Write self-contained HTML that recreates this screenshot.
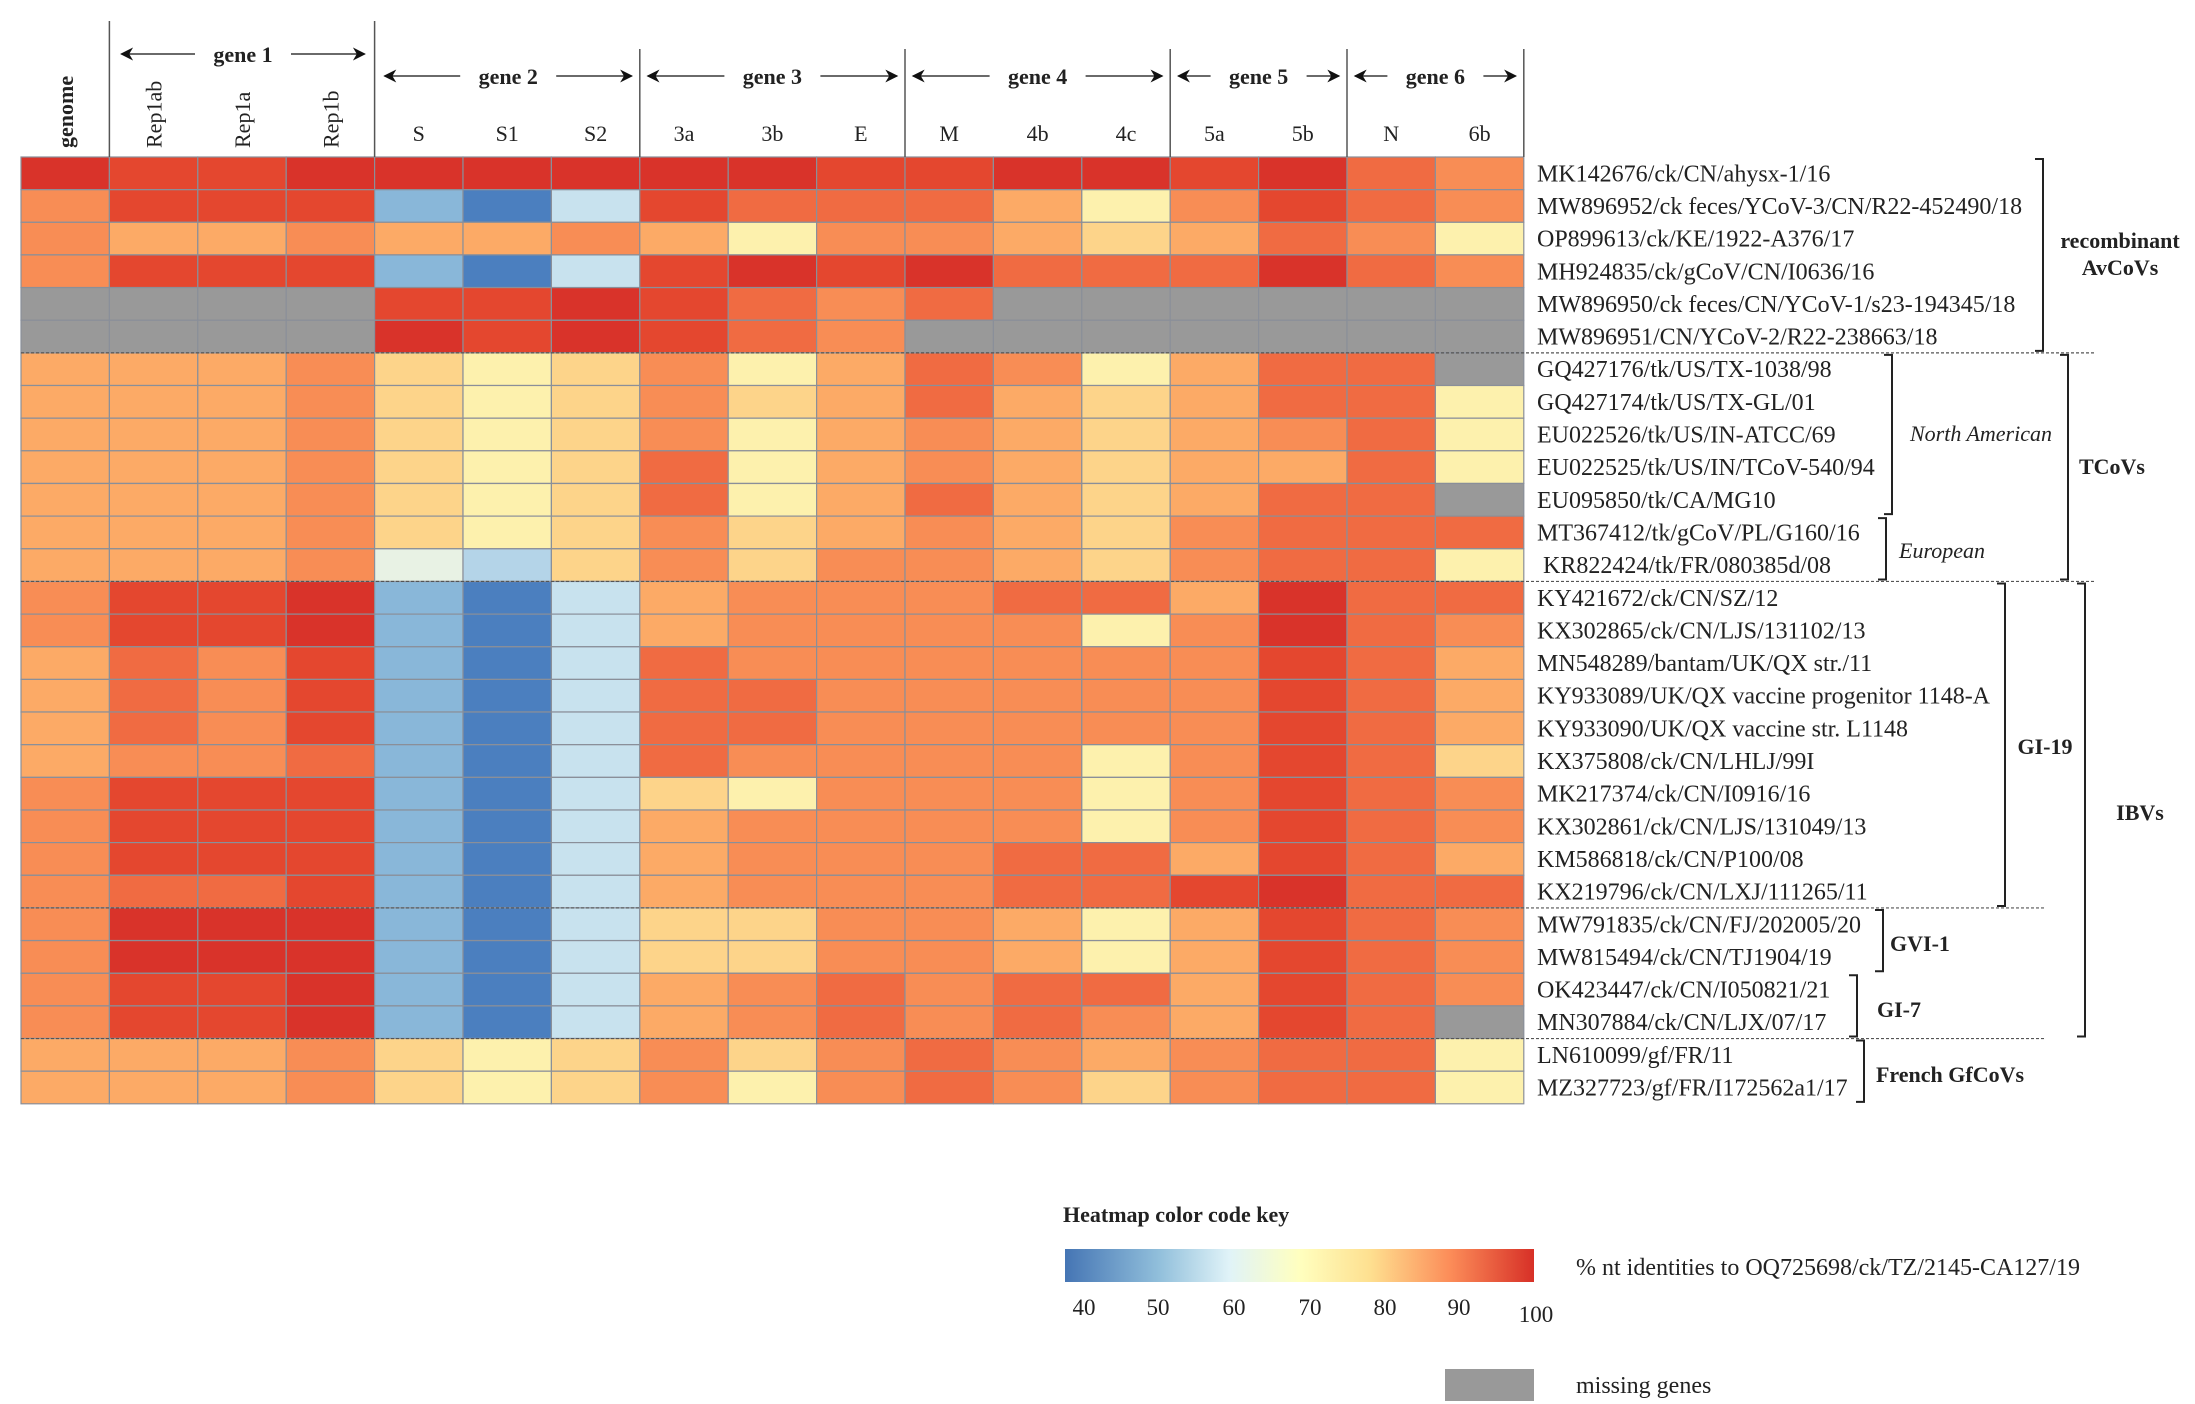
<!DOCTYPE html>
<html><head><meta charset="utf-8">
<style>
html,body{margin:0;padding:0;background:#fff;}
svg{display:block;}
text{font-family:"Liberation Serif",serif;fill:#222;}
</style></head>
<body>
<svg id="s" width="2195" height="1404" viewBox="0 0 2195 1404" xmlns="http://www.w3.org/2000/svg">
<defs>
<linearGradient id="grad" x1="0" x2="1" y1="0" y2="0">
<stop offset="0" stop-color="#4575b4"/>
<stop offset="0.2" stop-color="#91bfdb"/>
<stop offset="0.35" stop-color="#e0f3f8"/>
<stop offset="0.5" stop-color="#ffffbf"/>
<stop offset="0.65" stop-color="#fee090"/>
<stop offset="0.82" stop-color="#fc8d59"/>
<stop offset="1" stop-color="#d73027"/>
</linearGradient>
<marker id="ah" markerWidth="10" markerHeight="10" refX="9" refY="5" orient="auto"><path d="M0,0 L10,5 L0,10 L3,5 z" fill="#111"/></marker>
</defs>
<g id="cells"></g>
<g id="over"></g>
</svg>
<script>
var C={R:"#d9332a",r:"#e4472f",O:"#f06b42",o:"#f88d55",p:"#fcaa66",y:"#fdd48a",Y:"#fdf1ad",c:"#e8f2e4",b:"#89b7d9",B:"#4b7fbf",l:"#c8e2ee",L:"#b4d4e8",g:"#999999"};
var rows=[
"RrrRRRRRRrrRRrROo","orrrbBlrOOOpYorOo","oppoppopYoopypOoY","orrrbBlrRrROOOROo",
"ggggrrRrOoOgggggg","ggggRrRrOoggggggg",
"pppoyYyoYpOoYpOOg","pppoyYyoypOpypOOY","pppoyYyoYpopypoOY","pppoyYyOYpopyppOY","pppoyYyOYpOpypOOg",
"pppoyYyoypopyoOOO","pppocLyoyoopyoOOY",
"orrRbBlpoooOOpROO","orrRbBlpooooYoROo","pOorbBlOoooooorOp","pOorbBlOOooooorOp","pOorbBlOOooooorOp",
"pooObBlOooooYorOy","orrrbBlyYoooYorOo","orrrbBlpooooYorOo","orrrbBlpoooOOprOp","oOOrbBlpoooOOrROO",
"oRRRbBlyyoopYprOo","oRRRbBlyyoopYprOo","orrRbBlpoOoOOprOo","orrRbBlpoOoOoprOg",
"pppoyYyoyoOopoOOY","pppoyYyoYoOoyoOOY"];
var labels=["MK142676/ck/CN/ahysx-1/16","MW896952/ck feces/YCoV-3/CN/R22-452490/18","OP899613/ck/KE/1922-A376/17","MH924835/ck/gCoV/CN/I0636/16","MW896950/ck feces/CN/YCoV-1/s23-194345/18","MW896951/CN/YCoV-2/R22-238663/18","GQ427176/tk/US/TX-1038/98","GQ427174/tk/US/TX-GL/01","EU022526/tk/US/IN-ATCC/69","EU022525/tk/US/IN/TCoV-540/94","EU095850/tk/CA/MG10","MT367412/tk/gCoV/PL/G160/16"," KR822424/tk/FR/080385d/08","KY421672/ck/CN/SZ/12","KX302865/ck/CN/LJS/131102/13","MN548289/bantam/UK/QX str./11","KY933089/UK/QX vaccine progenitor 1148-A","KY933090/UK/QX vaccine str. L1148","KX375808/ck/CN/LHLJ/99I","MK217374/ck/CN/I0916/16","KX302861/ck/CN/LJS/131049/13","KM586818/ck/CN/P100/08","KX219796/ck/CN/LXJ/111265/11","MW791835/ck/CN/FJ/202005/20","MW815494/ck/CN/TJ1904/19","OK423447/ck/CN/I050821/21","MN307884/ck/CN/LJX/07/17","LN610099/gf/FR/11","MZ327723/gf/FR/I172562a1/17"];
var X0=21,W=88.4,Y0=157,H=32.65,NC=17;
var h='';
rows.forEach(function(r,i){for(var j=0;j<NC;j++){var ch=r[j]||'o';h+='<rect x="'+(X0+j*W).toFixed(1)+'" y="'+(Y0+i*H).toFixed(1)+'" width="'+W.toFixed(1)+'" height="'+H.toFixed(1)+'" fill="'+C[ch]+'" stroke="#8a8f99" stroke-width="1.2"/>';}
h+='<text x="1537" y="'+(Y0+i*H+H/2+8).toFixed(1)+'" font-size="24" xml:space="preserve">'+labels[i]+'</text>';});
document.getElementById('cells').innerHTML=h;
var o='';
var R=X0+17*W;
[[X0+W,21],[X0+4*W,21],[X0+7*W,49],[X0+10*W,49],[X0+13*W,49],[X0+15*W,49],[R,49]].forEach(function(v){o+='<line x1="'+v[0]+'" y1="'+v[1]+'" x2="'+v[0]+'" y2="157" stroke="#555" stroke-width="1.5"/>';});
function gene(x1,x2,y,t){var m=(x1+x2)/2;o+='<line x1="'+(m-48)+'" y1="'+y+'" x2="'+(x1+4)+'" y2="'+y+'" stroke="#111" stroke-width="1.3" marker-end="url(#ah)"/><line x1="'+(m+48)+'" y1="'+y+'" x2="'+(x2-4)+'" y2="'+y+'" stroke="#111" stroke-width="1.3" marker-end="url(#ah)"/><text x="'+m+'" y="'+(y+8)+'" font-size="22" font-weight="bold" text-anchor="middle">'+t+'</text>';}
gene(X0+W+8,X0+4*W-6,54,'gene 1');gene(X0+4*W+6,X0+7*W-4,76,'gene 2');gene(X0+7*W+4,X0+10*W-4,76,'gene 3');gene(X0+10*W+4,X0+13*W-4,76,'gene 4');gene(X0+13*W+4,X0+15*W-4,76,'gene 5');gene(X0+15*W+4,R-4,76,'gene 6');
var cl=['genome','Rep1ab','Rep1a','Rep1b','S','S1','S2','3a','3b','E','M','4b','4c','5a','5b','N','6b'];
cl.forEach(function(t,j){var cx=X0+j*W+W/2;if(j<4){o+='<text transform="translate('+(cx+8)+',148) rotate(-90)" font-size="22"'+(j==0?' font-weight="bold"':'')+'>'+t+'</text>';}else{o+='<text x="'+cx+'" y="141" font-size="22" text-anchor="middle">'+t+'</text>';}});
[6,13,23,27].forEach(function(k){var y=Y0+k*H;o+='<line x1="'+X0+'" y1="'+y+'" x2="'+(k==6||k==13?2095:2045)+'" y2="'+y+'" stroke="#555" stroke-width="1.2" stroke-dasharray="3,2"/>';});
function br(x,r1,r2){var y1=Y0+r1*H+2,y2=Y0+(r2+1)*H-2;o+='<path d="M'+(x-8)+','+y1+' H'+x+' V'+y2+' H'+(x-8)+'" fill="none" stroke="#222" stroke-width="2"/>';}
br(2043,0,5);br(2068,6,12);br(1892,6,10);br(1886,11,12);br(2085,13,26);br(2005,13,22);br(1883,23,24);br(1857,25,26);br(1864,27,28);
function lab(x,y,t,opt){o+='<text x="'+x+'" y="'+y+'" font-size="22" '+(opt||'font-weight="bold"')+' text-anchor="middle">'+t+'</text>';}
lab(2120,248,'recombinant');lab(2120,275,'AvCoVs');lab(2112,474,'TCoVs');lab(1981,441,'North American','font-style="italic"');lab(1942,558,'European','font-style="italic"');
lab(2045,754,'GI-19');lab(2140,820,'IBVs');lab(1920,951,'GVI-1');lab(1899,1017,'GI-7');lab(1950,1082,'French GfCoVs');
o+='<text x="1063" y="1222" font-size="22" font-weight="bold">Heatmap color code key</text>';
o+='<rect x="1065" y="1249" width="469" height="33" fill="url(#grad)"/>';
[[1084,'40'],[1158,'50'],[1234,'60'],[1310,'70'],[1385,'80'],[1459,'90'],[1536,'100']].forEach(function(t,i){o+='<text x="'+t[0]+'" y="'+(i==6?1322:1315)+'" font-size="23" text-anchor="middle">'+t[1]+'</text>';});
o+='<text x="1576" y="1275" font-size="24">% nt identities to OQ725698/ck/TZ/2145-CA127/19</text>';
o+='<rect x="1445" y="1369" width="89" height="32" fill="#999"/>';
o+='<text x="1576" y="1393" font-size="24">missing genes</text>';
document.getElementById('over').innerHTML=o;
</script>
</body></html>
